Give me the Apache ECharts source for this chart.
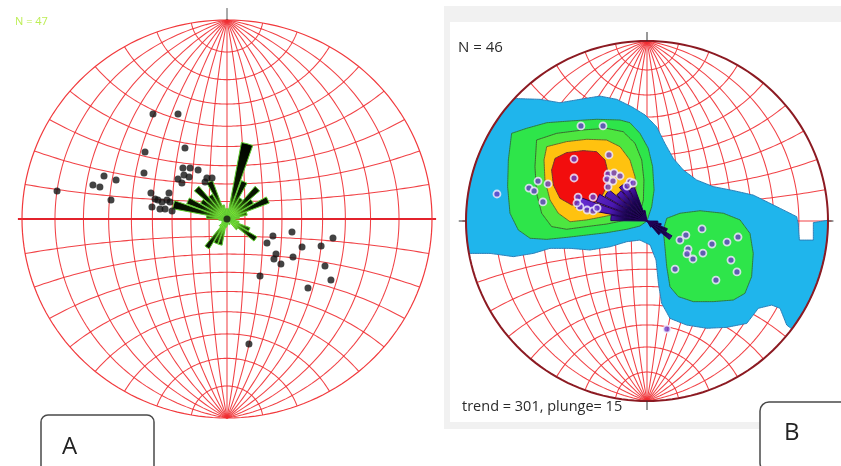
<!DOCTYPE html>
<html>
<head>
<meta charset="utf-8">
<script src="https://cdn.jsdelivr.net/npm/echarts@6/dist/echarts.min.js"></script>
<style>
  html, body { margin: 0; padding: 0; background: #fff; }
  #chart { width: 841px; height: 466px; }
</style>
</head>
<body>
<div id="chart"></div>
<script>
// ---- Rose diagrams: 10 degree bins clockwise from north, length as fraction of net radius
const roseBins = Array.from({ length: 36 }, (_, i) => (i * 10) + '-' + (i * 10 + 10));
const roseA = [0.05, 0.38, 0.20, 0.12, 0.21, 0.15, 0.22, 0.10, 0.06, 0.04, 0.06, 0.12,
               0.17, 0.07, 0.00, 0.03, 0.00, 0.03, 0.04, 0.13, 0.13, 0.17, 0.05, 0.03,
               0.02, 0.03, 0.04, 0.10, 0.27, 0.21, 0.15, 0.21, 0.14, 0.20, 0.07, 0.05];
const roseB = [0.00, 0.00, 0.00, 0.00, 0.00, 0.00, 0.00, 0.00, 0.00, 0.06, 0.08, 0.12,
               0.16, 0.10, 0.04, 0.00, 0.00, 0.00, 0.00, 0.00, 0.00, 0.00, 0.00, 0.00,
               0.00, 0.00, 0.00, 0.20, 0.40, 0.30, 0.27, 0.22, 0.24, 0.20, 0.06, 0.00];

// ---- Lineations, stereographic positions [east, north] in net radius units
const lineationsA = [
  [-0.361, 0.528], [-0.239, 0.528], [-0.400, 0.337], [-0.205, 0.357], [-0.405, 0.231],
  [-0.829, 0.141], [-0.654, 0.171], [-0.620, 0.161], [-0.600, 0.216], [-0.541, 0.196], [-0.566, 0.095],
  [-0.215, 0.256], [-0.180, 0.256], [-0.141, 0.246], [-0.239, 0.201], [-0.210, 0.221], [-0.185, 0.211], [-0.220, 0.181],
  [-0.098, 0.206], [-0.073, 0.206], [-0.107, 0.186],
  [-0.371, 0.131], [-0.283, 0.131], [-0.351, 0.101], [-0.337, 0.095], [-0.317, 0.085], [-0.293, 0.095],
  [-0.278, 0.085], [-0.366, 0.060], [-0.327, 0.050], [-0.302, 0.050], [-0.268, 0.040],
  [0.317, -0.065], [0.224, -0.085], [0.517, -0.095], [0.195, -0.121], [0.366, -0.141], [0.459, -0.136],
  [0.239, -0.176], [0.229, -0.201], [0.263, -0.226], [0.322, -0.191], [0.478, -0.236], [0.507, -0.307],
  [0.161, -0.286], [0.395, -0.347], [0.107, -0.628]
];
const lineationsB = [
  [-0.365, 0.528], [-0.243, 0.528], [-0.210, 0.367], [-0.403, 0.344], [-0.403, 0.239],
  [-0.215, 0.261], [-0.182, 0.267], [-0.149, 0.250], [-0.221, 0.233], [-0.188, 0.222], [-0.215, 0.189],
  [-0.094, 0.217], [-0.077, 0.211], [-0.110, 0.194],
  [-0.381, 0.133], [-0.298, 0.133], [-0.370, 0.078], [-0.331, 0.061], [-0.298, 0.056], [-0.276, 0.072], [-0.387, 0.100],
  [-0.602, 0.222], [-0.652, 0.183], [-0.624, 0.167], [-0.547, 0.206], [-0.575, 0.106],
  [-0.829, 0.150],
  [0.304, -0.044], [0.215, -0.078], [0.182, -0.106], [0.359, -0.128], [0.442, -0.117], [0.503, -0.089],
  [0.227, -0.156], [0.309, -0.178], [0.221, -0.183], [0.254, -0.211], [0.464, -0.217], [0.155, -0.267],
  [0.497, -0.283], [0.381, -0.328], [0.110, -0.600]
];

// ---- Density contour outlines for net B (net radius units, clipped to the primitive)
const contourLevel1 = [
  [-0.867, 0.672], [-0.720, 0.680], [-0.591, 0.676], [-0.481, 0.657], [-0.370, 0.676], [-0.260, 0.694],
  [-0.168, 0.676], [-0.085, 0.635], [-0.011, 0.589], [0.053, 0.524], [0.099, 0.431], [0.145, 0.348],
  [0.201, 0.283], [0.274, 0.228], [0.366, 0.191], [0.477, 0.169], [0.587, 0.144], [0.680, 0.098],
  [0.772, 0.052], [0.827, 0.024], [0.836, -0.017], [0.842, -0.106], [0.919, -0.106], [0.919, -0.009],
  [1.066, 0.015], [1.066, -0.439], [0.808, -0.606], [0.772, -0.578], [0.735, -0.485], [0.689, -0.467],
  [0.615, -0.485], [0.551, -0.569], [0.440, -0.591], [0.330, -0.596], [0.219, -0.578], [0.127, -0.541],
  [0.081, -0.457], [0.063, -0.346], [0.050, -0.217], [0.017, -0.133], [-0.039, -0.106], [-0.112, -0.115],
  [-0.204, -0.143], [-0.315, -0.161], [-0.425, -0.152], [-0.536, -0.152], [-0.628, -0.180], [-0.738, -0.198],
  [-0.867, -0.180], [-1.070, -0.180], [-1.070, 0.672]
];
const contourLevel2NW = [
  [-0.748, 0.487], [-0.665, 0.515], [-0.554, 0.546], [-0.407, 0.557], [-0.278, 0.565], [-0.149, 0.561],
  [-0.094, 0.546], [-0.039, 0.487], [0.007, 0.404], [0.031, 0.302], [0.039, 0.172], [0.026, 0.080],
  [0.000, 0.000], [-0.039, -0.028], [-0.112, -0.046], [-0.223, -0.065], [-0.333, -0.078], [-0.444, -0.091],
  [-0.554, -0.102], [-0.646, -0.096], [-0.711, -0.050], [-0.757, 0.043], [-0.770, 0.191], [-0.766, 0.339]
];
const contourLevel2SE = [
  [0.109, 0.015], [0.182, 0.043], [0.293, 0.057], [0.422, 0.043], [0.514, 0.006], [0.569, -0.069],
  [0.587, -0.180], [0.578, -0.309], [0.541, -0.402], [0.477, -0.439], [0.366, -0.448], [0.256, -0.448],
  [0.173, -0.420], [0.127, -0.365], [0.109, -0.254], [0.099, -0.143], [0.090, -0.050]
];
const contourLevel3 = [
  [-0.610, 0.450], [-0.499, 0.487], [-0.352, 0.506], [-0.223, 0.515], [-0.131, 0.496], [-0.066, 0.431],
  [-0.029, 0.339], [-0.017, 0.228], [-0.020, 0.117], [-0.039, 0.043], [-0.112, 0.006], [-0.223, -0.017],
  [-0.333, -0.031], [-0.444, -0.046], [-0.527, -0.031], [-0.582, 0.043], [-0.610, 0.154], [-0.619, 0.302]
];
const contourLevel4 = [
  [-0.554, 0.413], [-0.444, 0.441], [-0.333, 0.454], [-0.223, 0.450], [-0.149, 0.413], [-0.094, 0.339],
  [-0.066, 0.246], [-0.061, 0.154], [-0.085, 0.080], [-0.149, 0.043], [-0.241, 0.024], [-0.333, 0.006],
  [-0.425, -0.004], [-0.490, 0.043], [-0.536, 0.117], [-0.564, 0.228], [-0.569, 0.339]
];
const contourLevel5 = [
  [-0.508, 0.348], [-0.444, 0.380], [-0.352, 0.391], [-0.278, 0.385], [-0.232, 0.339], [-0.214, 0.265],
  [-0.223, 0.191], [-0.260, 0.117], [-0.333, 0.089], [-0.416, 0.089], [-0.481, 0.126], [-0.517, 0.200],
  [-0.527, 0.283]
];

// ---- Wulff (equal-angle) net geometry, lower hemisphere
const RAD = Math.PI / 180;
function project(e, n, d) { return [e / (1 + d), n / (1 + d)]; }

function buildNet() {
  const curves = [];
  // great circles through the N-S line, 10 degree steps
  for (let dip = 10; dip <= 170; dip += 10) {
    const a = dip * RAD, pts = [];
    for (let t = 0; t <= 180; t += 1.5) {
      const s = t * RAD;
      pts.push(project(Math.sin(s) * Math.cos(a), Math.cos(s), Math.sin(s) * Math.sin(a)));
    }
    curves.push({ pts, kind: dip === 90 ? 'ns' : 'net' });
  }
  // small circles about the N-S axis
  for (let cone = 10; cone <= 170; cone += 10) {
    const c = cone * RAD, pts = [];
    for (let t = 0; t <= 180; t += 1.5) {
      const s = t * RAD;
      pts.push(project(Math.sin(c) * Math.cos(s), Math.cos(c), Math.sin(c) * Math.sin(s)));
    }
    curves.push({ pts, kind: cone === 90 ? 'ew' : 'net' });
  }
  return curves;
}
const netCurves = buildNet();
const primitive = Array.from({ length: 181 }, (_, i) => [Math.cos(i * 2 * RAD), Math.sin(i * 2 * RAD)]);

// densify a polygon and pull any vertex outside the primitive back onto it
function clipToNet(poly) {
  const out = [];
  for (let i = 0; i < poly.length; i++) {
    const p = poly[i], q = poly[(i + 1) % poly.length];
    const steps = Math.max(1, Math.ceil(Math.hypot(q[0] - p[0], q[1] - p[1]) / 0.01));
    for (let k = 0; k < steps; k++) {
      const x = p[0] + (q[0] - p[0]) * k / steps, y = p[1] + (q[1] - p[1]) * k / steps;
      const r = Math.hypot(x, y);
      out.push(r > 1 ? [x / r, y / r] : [x, y]);
    }
  }
  return out;
}

const chart = echarts.init(document.getElementById('chart'), null, { renderer: 'canvas' });

function netSeries(gi, styleFor, z) {
  return {
    type: 'custom', xAxisIndex: gi, yAxisIndex: gi, silent: true, z,
    data: netCurves.map(() => [0, 0]),
    renderItem(params, api) {
      const c = netCurves[params.dataIndex];
      const pts = c.kind === 'ew' ? [[-1.02, 0], [1.02, 0]] : c.pts;
      return { type: 'polyline', shape: { points: pts.map(p => api.coord(p)) }, style: styleFor(c.kind) };
    }
  };
}
function lineSeries(gi, pts, style, z) {
  return {
    type: 'custom', xAxisIndex: gi, yAxisIndex: gi, silent: true, z, data: [[0, 0]],
    renderItem(params, api) {
      return { type: 'polyline', shape: { points: pts.map(p => api.coord(p)) }, style };
    }
  };
}
function polygonSeries(gi, poly, fill, stroke, z) {
  const pts = clipToNet(poly);
  return {
    type: 'custom', xAxisIndex: gi, yAxisIndex: gi, silent: true, z, data: [[0, 0]],
    renderItem(params, api) {
      return { type: 'polygon', shape: { points: pts.map(p => api.coord(p)) },
               style: { fill, stroke, lineWidth: 1 } };
    }
  };
}

const axisOff = { type: 'value', min: -1, max: 1, show: false };
const angleOff = { type: 'category', data: roseBins, startAngle: 90, clockwise: true,
                   axisLine: { show: false }, axisTick: { show: false }, axisLabel: { show: false },
                   splitLine: { show: false } };
const radiusOff = { type: 'value', min: 0, max: 1, show: false };
const gridLine = { stroke: 'rgba(240,46,50,0.9)', lineWidth: 1.05, fill: null };

const option = {
  animation: false,
  backgroundColor: '#ffffff',
  grid: [
    { left: 22, top: 20, width: 410, height: 398 },
    { left: 466, top: 41, width: 362, height: 360 }
  ],
  xAxis: [Object.assign({ gridIndex: 0 }, axisOff), Object.assign({ gridIndex: 1 }, axisOff)],
  yAxis: [Object.assign({ gridIndex: 0 }, axisOff), Object.assign({ gridIndex: 1 }, axisOff)],
  polar: [
    { center: [227, 219], radius: 205 },
    { center: [647, 221], radius: 181 }
  ],
  angleAxis: [Object.assign({ polarIndex: 0 }, angleOff), Object.assign({ polarIndex: 1 }, angleOff)],
  radiusAxis: [Object.assign({ polarIndex: 0 }, radiusOff), Object.assign({ polarIndex: 1 }, radiusOff)],
  graphic: [
    // panel behind net B
    { type: 'rect', z: -10, shape: { x: 444, y: 6, width: 400, height: 423 }, style: { fill: '#f1f1f1' } },
    { type: 'rect', z: -9, shape: { x: 450, y: 22, width: 394, height: 400 }, style: { fill: '#ffffff' } },
    { type: 'text', z: 100, x: 15, y: 21.5,
      style: { text: 'N = 47', fill: '#bdee55', font: '11px "Open Sans"', verticalAlign: 'middle' } },
    { type: 'text', z: 100, x: 458, y: 48,
      style: { text: 'N = 46', fill: '#2a2a2a', font: '15px "Open Sans"', verticalAlign: 'middle' } },
    { type: 'text', z: 100, x: 462, y: 407,
      style: { text: 'trend = 301, plunge= 15', fill: '#2a2a2a', font: '14.5px "Open Sans"', verticalAlign: 'middle' } },
    { type: 'rect', z: 100, shape: { x: 41, y: 415, width: 113, height: 60, r: 7 },
      style: { fill: '#ffffff', stroke: '#4a4a4a', lineWidth: 1.5 } },
    { type: 'text', z: 101, x: 62, y: 447,
      style: { text: 'A', fill: '#222', font: '24px "Open Sans"', verticalAlign: 'middle' } },
    { type: 'rect', z: 100, shape: { x: 760, y: 402, width: 100, height: 70, r: 9 },
      style: { fill: '#ffffff', stroke: '#4a4a4a', lineWidth: 1.5 } },
    { type: 'text', z: 101, x: 784, y: 433,
      style: { text: 'B', fill: '#222', font: '24px "Open Sans"', verticalAlign: 'middle' } }
  ],
  series: [
    // ---- net A
    netSeries(0, k => k === 'ew' ? { stroke: '#e3232c', lineWidth: 2, fill: null } : gridLine, 1),
    lineSeries(0, primitive, { stroke: 'rgba(240,46,50,0.95)', lineWidth: 1.2, fill: null }, 1),
    lineSeries(0, [[0, 1], [0, 1.06]], { stroke: '#555', lineWidth: 1, fill: null }, 1),
    {
      type: 'bar', coordinateSystem: 'polar', polarIndex: 0, data: roseA, barCategoryGap: '14%', z: 4,
      silent: true,
      itemStyle: {
        color: { type: 'radial', x: 227, y: 219, r: 85, global: true,
                 colorStops: [{ offset: 0, color: '#c8ff70' }, { offset: 0.1, color: '#8cf03a' },
                              { offset: 0.2, color: '#3a7a10' }, { offset: 0.32, color: '#0a1a00' },
                              { offset: 1, color: '#000000' }] },
        borderColor: '#5ecb2e', borderWidth: 1
      }
    },
    {
      type: 'scatter', xAxisIndex: 0, yAxisIndex: 0, data: lineationsA.concat([[0, 0]]),
      symbolSize: 7, silent: true, z: 6, itemStyle: { color: '#141414' }
    },
    // ---- net B
    netSeries(1, k => gridLine, 1),
    polygonSeries(1, contourLevel1, '#1fb5ec', '#2c7fb8', 2),
    polygonSeries(1, contourLevel2NW, '#2ee54a', '#2f7a40', 3),
    polygonSeries(1, contourLevel2SE, '#2ee54a', '#2f7a40', 3),
    polygonSeries(1, contourLevel3, '#4de640', '#3a6a30', 3.1),
    polygonSeries(1, contourLevel4, '#ffc20f', '#6a6a28', 3.2),
    polygonSeries(1, contourLevel5, '#f20d0d', '#703030', 3.3),
    lineSeries(1, primitive, { stroke: '#8c1a22', lineWidth: 2, fill: null }, 3.5),
    lineSeries(1, [[0, 1], [0, 1.05]], { stroke: '#333', lineWidth: 1, fill: null }, 3.5),
    lineSeries(1, [[0, -1], [0, -1.05]], { stroke: '#333', lineWidth: 1, fill: null }, 3.5),
    lineSeries(1, [[-1, 0], [-1.04, 0]], { stroke: '#333', lineWidth: 1, fill: null }, 3.5),
    lineSeries(1, [[1, 0], [1.03, 0]], { stroke: '#333', lineWidth: 1, fill: null }, 3.5),
    {
      type: 'bar', coordinateSystem: 'polar', polarIndex: 1, data: roseB, barCategoryGap: '12%', z: 4,
      silent: true,
      itemStyle: {
        color: { type: 'radial', x: 647, y: 221, r: 75, global: true,
                 colorStops: [{ offset: 0, color: '#050010' }, { offset: 0.3, color: '#1a0550' },
                              { offset: 0.5, color: '#4a18b0' }, { offset: 1, color: '#6a2fd6' }] },
        borderColor: '#22005a', borderWidth: 1
      }
    },
    {
      type: 'scatter', xAxisIndex: 1, yAxisIndex: 1, data: lineationsB,
      symbolSize: 7, silent: true, z: 6,
      itemStyle: { color: '#6a3cc8', borderColor: '#f4f0ff', borderWidth: 1.8 }
    }
  ]
};
chart.setOption(option);
</script>
</body>
</html>
